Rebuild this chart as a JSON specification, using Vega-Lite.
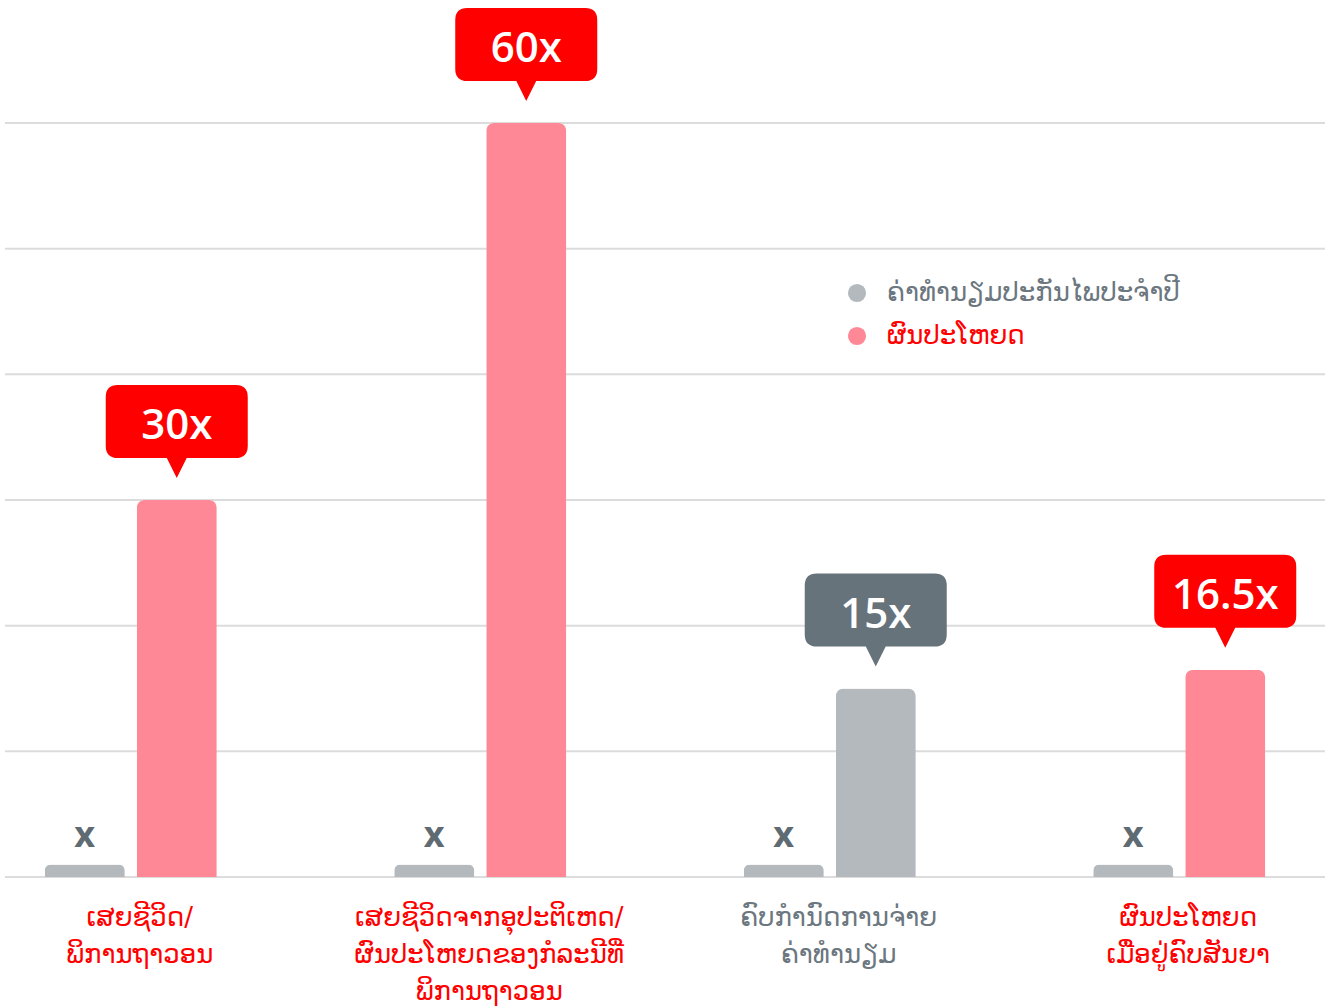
{
  "$schema": "https://vega.github.io/schema/vega-lite/v6.json",
  "autosize": {"type": "none"},
  "width": 1320,
  "height": 754,
  "padding": {"left": 5, "top": 123, "right": 8, "bottom": 131},
  "background": "#ffffff",
  "config": {"view": {"stroke": null}},
  "layer": [
    {
      "data": {"values": [{"v": 0}, {"v": 10}, {"v": 20}, {"v": 30}, {"v": 40}, {"v": 50}, {"v": 60}]},
      "mark": {"type": "rule", "color": "#dcdcdc", "strokeWidth": 2},
      "encoding": {
        "y": {"field": "v", "type": "quantitative", "scale": {"domain": [0, 60], "nice": false}, "axis": null}
      }
    },
    {
      "data": {
        "values": [
          {"group": "ເສຍຊີວິດ/|ພິການຖາວອນ", "pos": "a", "series": "ຄ່າທຳນຽມປະກັນໄພປະຈຳປີ", "value": 1, "label": "x"},
          {"group": "ເສຍຊີວິດ/|ພິການຖາວອນ", "pos": "b", "series": "ຜົນປະໂຫຍດ", "value": 30, "label": "30x"},
          {"group": "ເສຍຊີວິດຈາກອຸປະຕິເຫດ/|ຜົນປະໂຫຍດຂອງກໍລະນີທີ່|ພິການຖາວອນ", "pos": "a", "series": "ຄ່າທຳນຽມປະກັນໄພປະຈຳປີ", "value": 1, "label": "x"},
          {"group": "ເສຍຊີວິດຈາກອຸປະຕິເຫດ/|ຜົນປະໂຫຍດຂອງກໍລະນີທີ່|ພິການຖາວອນ", "pos": "b", "series": "ຜົນປະໂຫຍດ", "value": 60, "label": "60x"},
          {"group": "ຄົບກຳນົດການຈ່າຍ|ຄ່າທຳນຽມ", "pos": "a", "series": "ຄ່າທຳນຽມປະກັນໄພປະຈຳປີ", "value": 1, "label": "x"},
          {"group": "ຄົບກຳນົດການຈ່າຍ|ຄ່າທຳນຽມ", "pos": "b", "series": "ຄ່າທຳນຽມປະກັນໄພປະຈຳປີ", "value": 15, "label": "15x"},
          {"group": "ຜົນປະໂຫຍດ|ເມື່ອຢູ່ຄົບສັນຍາ", "pos": "a", "series": "ຄ່າທຳນຽມປະກັນໄພປະຈຳປີ", "value": 1, "label": "x"},
          {"group": "ຜົນປະໂຫຍດ|ເມື່ອຢູ່ຄົບສັນຍາ", "pos": "b", "series": "ຜົນປະໂຫຍດ", "value": 16.5, "label": "16.5x"}
        ]
      },
      "encoding": {
        "x": {
          "field": "group",
          "type": "nominal",
          "sort": null,
          "scale": {"range": [-49, 1349], "paddingInner": 0, "paddingOuter": 0},
          "axis": {
            "title": null,
            "domain": false,
            "ticks": false,
            "grid": false,
            "labelAngle": 0,
            "labelExpr": "split(datum.label, '|')",
            "labelFont": "DejaVu Sans",
            "labelFontSize": 26,
            "labelLineHeight": 37,
            "labelBaseline": "top",
            "labelPadding": 27,
            "labelOffset": 9,
            "labelLimit": 1000,
            "labelOverlap": false,
            "labelColor": {"condition": {"test": "indexof(datum.value, 'ຄົບກຳນົດ') === 0", "value": "#6c7780"}, "value": "#ff0000"}
          }
        },
        "xOffset": {"field": "pos", "type": "nominal", "scale": {"paddingInner": 0.13, "paddingOuter": 0.9645}},
        "y": {"field": "value", "type": "quantitative", "axis": null}
      },
      "layer": [
        {
          "mark": {"type": "bar", "cornerRadiusTopLeft": 8, "cornerRadiusTopRight": 8},
          "encoding": {
            "color": {
              "field": "series",
              "type": "nominal",
              "scale": {"domain": ["ຄ່າທຳນຽມປະກັນໄພປະຈຳປີ", "ຜົນປະໂຫຍດ"], "range": ["#b4b9bd", "#ff8896"]},
              "legend": {
                "title": null,
                "orient": "none",
                "legendX": 839,
                "legendY": 157,
                "padding": 0,
                "symbolType": "circle",
                "symbolSize": 330,
                "labelFont": "DejaVu Sans",
                "labelFontSize": 26,
                "labelOffset": 17,
                "rowPadding": 17,
                "labelLimit": 600,
                "encode": {
                  "labels": {"update": {"fill": {"signal": "datum.value === 'ຜົນປະໂຫຍດ' ? '#ff0000' : '#6c7780'"}}}
                }
              }
            }
          }
        },
        {
          "transform": [{"filter": "datum.pos === 'a'"}],
          "mark": {"type": "text", "font": "Open Sans", "fontWeight": "bold", "fontSize": 36, "color": "#5f6b73", "baseline": "alphabetic", "dy": -17},
          "encoding": {"text": {"field": "label"}}
        },
        {
          "transform": [{"filter": "datum.pos === 'b'"}],
          "mark": {
            "type": "point",
            "filled": true,
            "opacity": 1,
            "strokeWidth": 0,
            "size": 20164,
            "shape": "M -0.83,-1.62 L 0.83,-1.62 Q 1,-1.62 1,-1.45 L 1,-0.76 Q 1,-0.59 0.83,-0.59 L 0.14,-0.59 L 0,-0.31 L -0.14,-0.59 L -0.83,-0.59 Q -1,-0.59 -1,-0.76 L -1,-1.45 Q -1,-1.62 -0.83,-1.62 Z"
          },
          "encoding": {
            "color": {"condition": {"test": "datum.series === 'ຜົນປະໂຫຍດ'", "value": "#ff0000"}, "value": "#66737b"}
          }
        },
        {
          "transform": [{"filter": "datum.pos === 'b'"}],
          "mark": {"type": "text", "font": "Open Sans", "fontWeight": 600, "fontSize": 42, "color": "#ffffff", "baseline": "alphabetic", "dy": -61},
          "encoding": {"text": {"field": "label"}}
        }
      ]
    }
  ]
}
